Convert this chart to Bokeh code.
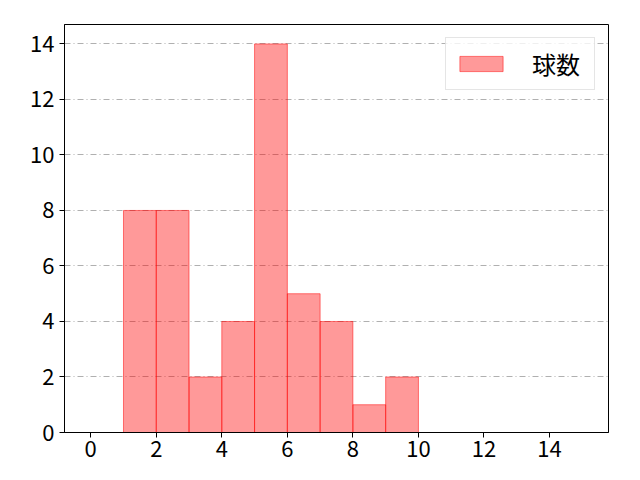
from bokeh.plotting import figure
from bokeh.models import ColumnDataSource, Range1d, FixedTicker, Legend, LegendItem
from bokeh.embed import file_html
from bokeh.resources import INLINE

# histogram data: bin edges and counts
bin_left = [1, 2, 3, 4, 5, 6, 7, 8, 9]
bin_right = [2, 3, 4, 5, 6, 7, 8, 9, 10]
counts = [8, 8, 2, 4, 14, 5, 4, 1, 2]
x_ticks = [0, 2, 4, 6, 8, 10, 12, 14]
y_ticks = [0, 2, 4, 6, 8, 10, 12, 14]
label = "球数"

FONT = "Noto Sans CJK JP"

source = ColumnDataSource(dict(left=bin_left, right=bin_right, top=counts,
                               bottom=[0] * len(counts)))

p = figure(width=624, height=464, output_backend="svg", toolbar_location=None,
           x_range=Range1d(-0.8, 15.8), y_range=Range1d(0, 14.7),
           min_border_left=64, min_border_right=16,
           min_border_top=24, min_border_bottom=32)

r = p.quad(left='left', right='right', top='top', bottom='bottom', source=source,
           fill_color='red', fill_alpha=0.4, line_color='red', line_alpha=0.5,
           line_width=1)

# grid: only horizontal dash-dot lines
p.xgrid.grid_line_color = None
p.ygrid.grid_line_color = "#b0b0b0"
p.ygrid.grid_line_dash = "6 3 1 3"
p.ygrid.grid_line_width = 1
p.ygrid.ticker = FixedTicker(ticks=y_ticks)

p.outline_line_color = "black"
p.outline_line_width = 1
p.outline_line_alpha = 1

for ax, ticks in ((p.xaxis, x_ticks), (p.yaxis, y_ticks)):
    ax.ticker = FixedTicker(ticks=ticks)
    ax.minor_tick_line_color = None
    ax.major_tick_in = 0
    ax.major_tick_out = 5
    ax.major_tick_line_color = "black"
    ax.axis_line_color = "black"
    ax.major_label_text_font = FONT
    ax.major_label_text_font_size = "22px"
    ax.major_label_text_color = "black"

p.xaxis.major_label_standoff = 3
p.yaxis.major_label_standoff = 5

legend = Legend(items=[LegendItem(label=label, renderers=[r])],
                location="top_right")
legend.label_text_font = FONT
legend.label_text_font_size = "24px"
legend.label_text_color = "black"
legend.glyph_width = 54
legend.glyph_height = 19
legend.label_standoff = 24
legend.label_width = 54
legend.padding = 8
legend.margin = 13
legend.border_line_color = "#cccccc"
legend.border_line_width = 1
legend.background_fill_alpha = 0.8
p.add_layout(legend)

open("out.html", "w").write(file_html(p, INLINE))
